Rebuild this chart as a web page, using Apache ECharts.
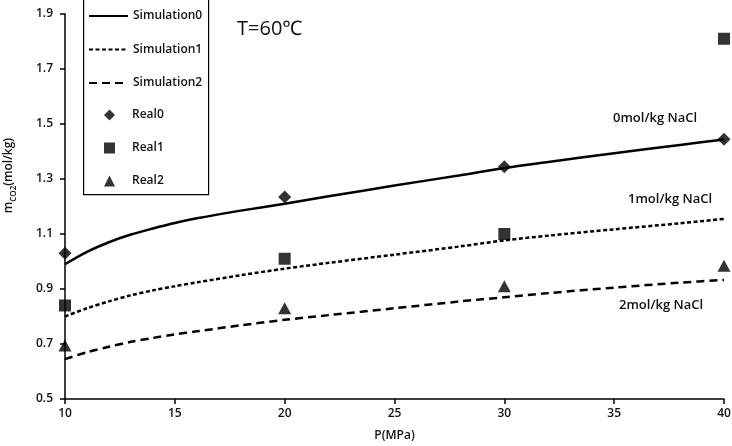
<!DOCTYPE html>
<html>
<head>
<meta charset="utf-8">
<script src="https://cdn.jsdelivr.net/npm/echarts@6/dist/echarts.min.js"></script>
<style>html,body{margin:0;padding:0;background:#fff}#c{width:732px;height:446px}</style>
</head>
<body>
<div id="c"></div>
<script>
// ---- data ----
const simP = [10, 11, 12, 13, 14, 15, 16, 18, 20, 22, 25, 28, 30, 32, 35, 38, 40];
const sim0 = [0.99, 1.035, 1.07, 1.098, 1.12, 1.14, 1.157, 1.185, 1.21, 1.237, 1.276, 1.314, 1.34, 1.362, 1.394, 1.424, 1.444];
const sim1 = [0.80, 0.83, 0.855, 0.877, 0.895, 0.91, 0.924, 0.95, 0.974, 0.995, 1.025, 1.055, 1.077, 1.094, 1.117, 1.139, 1.155];
const sim2 = [0.645, 0.67, 0.69, 0.708, 0.722, 0.735, 0.746, 0.768, 0.788, 0.805, 0.83, 0.855, 0.87, 0.885, 0.905, 0.923, 0.933];
const realP = [10, 20, 30, 40];
const real0 = [1.03, 1.235, 1.345, 1.445];
const real1 = [0.84, 1.01, 1.10, 1.81];
const real2 = [0.695, 0.83, 0.91, 0.985];
const xTicks = [10, 15, 20, 25, 30, 35, 40];
const yTicks = [0.5, 0.7, 0.9, 1.1, 1.3, 1.5, 1.7, 1.9];
const simNames = ['Simulation0', 'Simulation1', 'Simulation2'];
const realNames = ['Real0', 'Real1', 'Real2'];
const curveLabels = ['0mol/kg NaCl', '1mol/kg NaCl', '2mol/kg NaCl'];
const titleText = 'T=60℃';

const FONT = '"Open Sans", "Noto Sans", sans-serif';
const pair = (xs, ys) => xs.map((x, i) => [x, ys[i]]);
const legendText = {fontSize: 12, fontWeight: 600, color: '#111', fontFamily: FONT, lineHeight: 12};

const chart = echarts.init(document.getElementById('c'), null, {renderer: 'canvas'});
chart.setOption({
  animation: false,
  backgroundColor: '#fff',
  textStyle: {fontFamily: FONT, color: '#111'},
  grid: {left: 65, right: 8, top: 14, bottom: 47, containLabel: false, outerBoundsMode: 'none'},
  xAxis: {
    type: 'value', min: xTicks[0], max: xTicks[xTicks.length - 1], interval: 5,
    name: 'P(MPa)', nameLocation: 'middle', nameGap: 31,
    nameTextStyle: {fontSize: 12, fontWeight: 600, color: '#111', fontFamily: FONT},
    axisLine: {lineStyle: {color: '#000', width: 1.5}},
    axisTick: {show: true, inside: false, length: 5, lineStyle: {color: '#000', width: 1.5}},
    axisLabel: {fontSize: 12, fontWeight: 600, color: '#111', margin: 9, fontFamily: FONT},
    splitLine: {show: false}
  },
  yAxis: {
    type: 'value', min: yTicks[0], max: yTicks[yTicks.length - 1], interval: 0.2,
    name: '{a|m}{b|CO2}{a|(mol/kg)}', nameLocation: 'middle', nameGap: 50, nameRotate: 90,
    nameTextStyle: {
      fontFamily: FONT,
      padding: [0, 0, 0, 62],
      rich: {
        a: {fontSize: 12, fontWeight: 600, color: '#111', fontFamily: FONT, lineHeight: 16, verticalAlign: 'bottom'},
        b: {fontSize: 8, fontWeight: 600, color: '#111', fontFamily: FONT, lineHeight: 16, verticalAlign: 'bottom', padding: [0, 0, -3, 0]}
      }
    },
    axisLine: {show: true, lineStyle: {color: '#000', width: 1.5}},
    axisTick: {show: true, inside: false, length: 5, lineStyle: {color: '#000', width: 1.5}},
    axisLabel: {fontSize: 12, fontWeight: 600, color: '#111', margin: 12, fontFamily: FONT,
      formatter: v => v.toFixed(1)},
    splitLine: {show: false}
  },
  legend: [
    {
      orient: 'vertical', left: 88, top: 10, padding: 0,
      data: simNames.map(n => ({name: n, itemStyle: {color: 'rgba(0,0,0,0)', borderWidth: 0, opacity: 0}})),
      itemWidth: 39, itemHeight: 10, itemGap: 21.5,
      textStyle: legendText, selectedMode: false
    },
    {
      orient: 'vertical', left: 104, top: 109, padding: 0,
      data: realNames,
      itemWidth: 11, itemHeight: 11, itemGap: 21,
      textStyle: Object.assign({padding: [0, 0, 0, 12]}, legendText), selectedMode: false
    }
  ],
  series: [
    {name: simNames[0], type: 'line', data: pair(simP, sim0), smooth: 0.3, symbol: 'none',
      lineStyle: {color: '#000', width: 2.5, type: 'solid'}, itemStyle: {color: '#000'}, z: 2},
    {name: simNames[1], type: 'line', data: pair(simP, sim1), smooth: 0.3, symbol: 'none',
      lineStyle: {color: '#000', width: 2.5, type: [4, 2.5]}, itemStyle: {color: '#000'}, z: 2},
    {name: simNames[2], type: 'line', data: pair(simP, sim2), smooth: 0.3, symbol: 'none',
      lineStyle: {color: '#000', width: 2.5, type: [8, 5]}, itemStyle: {color: '#000'}, z: 2},
    {name: realNames[0], type: 'scatter', data: pair(realP, real0), symbol: 'diamond', symbolSize: 13,
      itemStyle: {color: '#000'}, z: 3},
    {name: realNames[1], type: 'scatter', data: pair(realP, real1), symbol: 'rect', symbolSize: 12,
      itemStyle: {color: '#000'}, z: 3},
    {name: realNames[2], type: 'scatter', data: pair(realP, real2), symbol: 'triangle', symbolSize: [13, 12],
      itemStyle: {color: '#000'}, z: 3}
  ],
  graphic: [
    {type: 'rect', left: 83, top: -2, z: -1, silent: true,
      shape: {width: 125, height: 196}, style: {fill: '#fff', stroke: '#000', lineWidth: 1.2}},
    {type: 'text', left: 237, top: 19, style: {text: titleText, font: '20px ' + FONT, fill: '#111'}},
    {type: 'text', left: 613, top: 112, style: {text: curveLabels[0], font: '600 13px ' + FONT, fill: '#111'}},
    {type: 'text', left: 628, top: 193, style: {text: curveLabels[1], font: '600 13px ' + FONT, fill: '#111'}},
    {type: 'text', left: 619, top: 299, style: {text: curveLabels[2], font: '600 13px ' + FONT, fill: '#111'}}
  ]
});
</script>
</body>
</html>
